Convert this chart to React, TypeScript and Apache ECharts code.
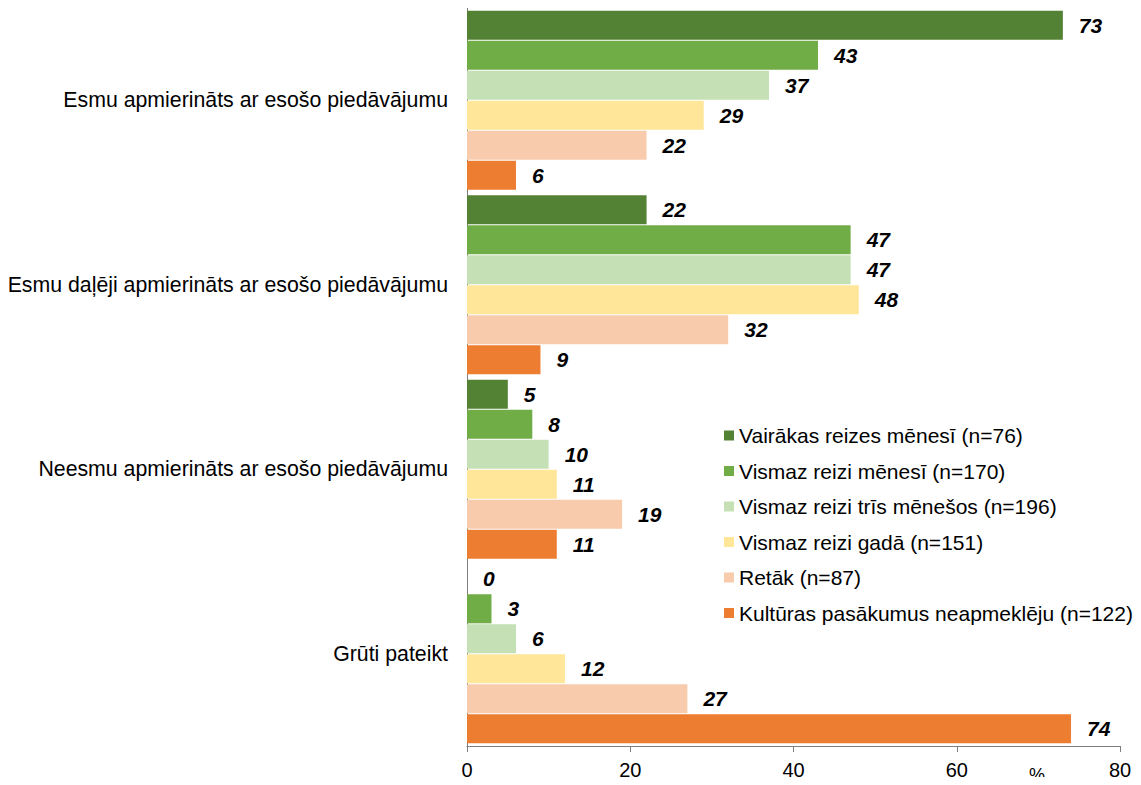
import React, { useEffect, useRef } from "react";
import * as echarts from "echarts";

const categories = [
  "Esmu apmierināts ar esošo piedāvājumu",
  "Esmu daļēji apmierināts ar esošo piedāvājumu",
  "Neesmu apmierināts ar esošo piedāvājumu",
  "Grūti pateikt",
];

const seriesNames = [
  "Vairākas reizes mēnesī (n=76)",
  "Vismaz reizi mēnesī (n=170)",
  "Vismaz reizi trīs mēnešos (n=196)",
  "Vismaz reizi gadā (n=151)",
  "Retāk (n=87)",
  "Kultūras pasākumus neapmeklēju (n=122)",
];

const vairakasReizes = [73, 22, 5, 0];
const vismazMenesi = [43, 47, 8, 3];
const vismazTrisMenesos = [37, 47, 10, 6];
const vismazGada = [29, 48, 11, 12];
const retak = [22, 32, 19, 27];
const neapmekleju = [6, 9, 11, 74];

const seriesValues = [
  vairakasReizes,
  vismazMenesi,
  vismazTrisMenesos,
  vismazGada,
  retak,
  neapmekleju,
];

const colors = ["#548235", "#70AD47", "#C5E0B4", "#FFE699", "#F8CBAD", "#ED7D31"];

const xTicks = { min: 0, max: 80, interval: 20 };

export default function App() {
  const ref = useRef<HTMLDivElement>(null);
  useEffect(() => {
    if (!ref.current) return;
    const chart = echarts.init(ref.current, undefined, { renderer: "svg" });
    const font = "'Liberation Sans', Arial, sans-serif";
    chart.setOption({
      animation: false,
      textStyle: { fontFamily: font },
      grid: { left: 467, right: 21, top: 8, bottom: 39, containLabel: false },
      legend: {
        orient: "vertical",
        left: 719,
        top: 420,
        itemWidth: 10,
        itemHeight: 10,
        itemGap: 14.5,
        icon: "rect",
        data: seriesNames,
        textStyle: { fontSize: 21, color: "#000", fontFamily: font },
      },
      xAxis: {
        type: "value",
        min: xTicks.min,
        max: xTicks.max,
        interval: xTicks.interval,
        splitLine: { show: false },
        axisLine: { show: true, lineStyle: { color: "#7f7f7f", width: 1 } },
        axisTick: { show: true, length: 6, lineStyle: { color: "#7f7f7f" } },
        axisLabel: { color: "#000", fontSize: 20, margin: 14, fontFamily: font },
      },
      yAxis: {
        type: "category",
        data: categories,
        inverse: true,
        axisLine: { show: true, lineStyle: { color: "#7f7f7f", width: 1 } },
        axisTick: { show: false },
        axisLabel: { color: "#000", fontSize: 21.3, margin: 19, fontFamily: font },
      },
      graphic: [
        {
          type: "text",
          left: 1029,
          top: 766,
          style: { text: "%", fontSize: 18, fill: "#000", fontFamily: font },
        },
      ],
      series: seriesNames.map((name, i) => ({
        name,
        type: "bar",
        data: seriesValues[i],
        barGap: "3%",
        barCategoryGap: "3%",
        itemStyle: { color: colors[i] },
        label: {
          show: true,
          position: "right",
          distance: 16,
          color: "#000",
          fontSize: 21,
          fontWeight: "bold",
          fontStyle: "italic",
          fontFamily: font,
        },
      })),
    });
    return () => chart.dispose();
  }, []);
  return <div ref={ref} style={{ width: 1141, height: 785, margin: -8 }} />;
}
